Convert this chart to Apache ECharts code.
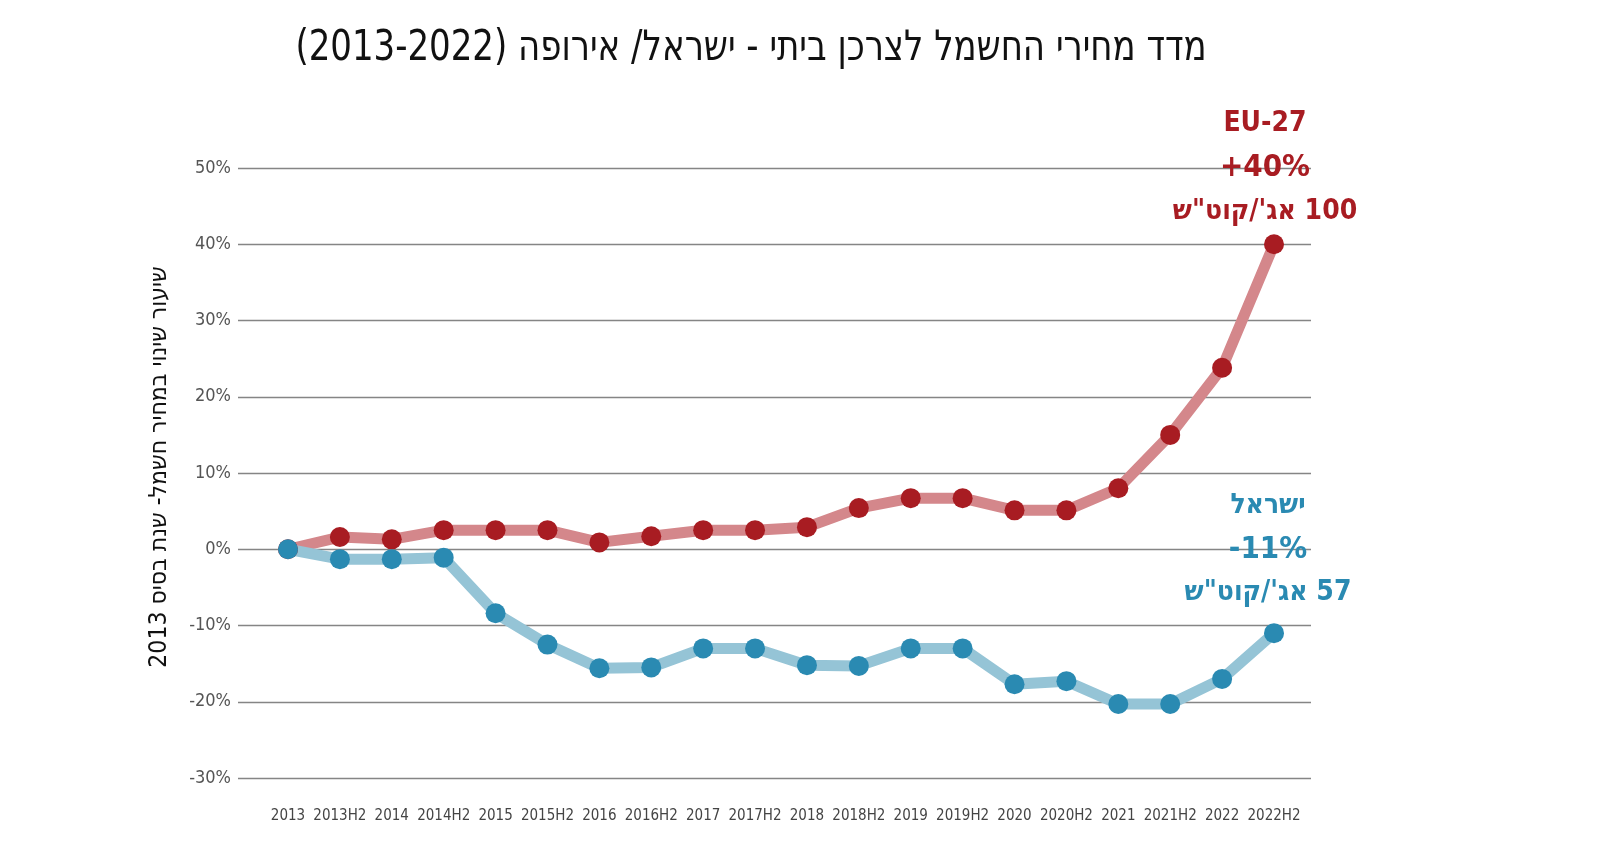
<!DOCTYPE html>
<html>
<head>
<meta charset="utf-8">
<script src="https://cdn.jsdelivr.net/npm/echarts@6/dist/echarts.min.js"></script>
<style>
html,body{margin:0;padding:0;background:#fff;}
#chart{width:1600px;height:863px;}
</style>
</head>
<body>
<div id="chart"></div>
<script>
const RLM = '\u200F';
const titleText = 'מדד מחירי החשמל לצרכן ביתי - ישראל/ אירופה (2013-2022)';
const yAxisTitle = 'שיעור שינוי במחיר חשמל- שנת בסיס 2013';
const categories = ['2013','2013H2','2014','2014H2','2015','2015H2','2016','2016H2','2017','2017H2',
  '2018','2018H2','2019','2019H2','2020','2020H2','2021','2021H2','2022','2022H2'];
const euValues = [0, 1.6, 1.3, 2.5, 2.5, 2.5, 0.9, 1.7, 2.5, 2.5,
  2.9, 5.4, 6.7, 6.7, 5.1, 5.1, 8.0, 15.0, 23.8, 40.0];
const israelValues = [0, -1.3, -1.3, -1.1, -8.4, -12.5, -15.6, -15.5, -13.0, -13.0,
  -15.2, -15.3, -13.0, -13.0, -17.7, -17.3, -20.3, -20.3, -17.0, -11.0];
const yTicks = [-30, -20, -10, 0, 10, 20, 30, 40, 50];
const euNote = ['EU-27', '+40%', '100 אג\'/קוט"ש'];
const israelNote = ['ישראל', '-11%', '57 אג\'/קוט"ש'];

const FONT = '"Liberation Sans Narrow", "DejaVu Sans Condensed", sans-serif';
const RED_DOT = '#a81c22', RED_LINE = '#d4878b';
const BLUE_DOT = '#2a8ab2', BLUE_LINE = '#95c4d6';

function noteRich(color){
  return {
    a: {fontFamily: FONT, fontWeight: 'bold', fontSize: 28, color: color, lineHeight: 45, align: 'center'},
    b: {fontFamily: FONT, fontWeight: 'bold', fontSize: 31, color: color, lineHeight: 44, align: 'center'},
    c: {fontFamily: FONT, fontWeight: 'bold', fontSize: 28, color: color, lineHeight: 42, align: 'center'}
  };
}
function withNote(values, note, color, offset){
  return values.map((v, i) => i === values.length - 1 ? {
    value: v,
    label: {
      show: true, position: 'top', offset: offset, distance: 5,
      formatter: '{a|' + RLM + note[0] + RLM + '}\n{b|' + note[1] + '}\n{c|' + RLM + note[2] + RLM + '}',
      rich: noteRich(color)
    }
  } : v);
}

const chart = echarts.init(document.getElementById('chart'));
const gridTop = 168, gridHeight = 610;
chart.setOption({
  animation: false,
  backgroundColor: '#ffffff',
  graphic: [{
    type: 'text', x: 751, y: 28, scaleX: 0.9,
    style: {text: RLM + titleText + RLM, font: '42px ' + FONT, fill: '#111',
            textAlign: 'center', textVerticalAlign: 'top'}
  }],
  grid: [
    {left: 238, right: 289, top: gridTop, height: gridHeight},
    {left: 288, right: 326, top: gridTop, height: gridHeight}
  ],
  xAxis: [
    {gridIndex: 0, type: 'value', show: false, min: 0, max: 1},
    {gridIndex: 1, type: 'category', data: categories, boundaryGap: false,
     axisLine: {show: false}, axisTick: {show: false},
     axisLabel: {interval: 0, margin: 31, fontFamily: FONT, fontSize: 15, color: '#444'}}
  ],
  yAxis: [
    {gridIndex: 0, type: 'value', min: yTicks[0], max: yTicks[yTicks.length-1], interval: 10,
     axisLine: {show: false}, axisTick: {show: false},
     axisLabel: {formatter: '{value}%', margin: 7, fontFamily: FONT, fontSize: 18, color: '#555'},
     splitLine: {lineStyle: {color: '#858585', width: 1.3}},
     name: RLM + yAxisTitle + RLM, nameLocation: 'middle', nameRotate: 90, nameGap: 66,
     nameTextStyle: {fontFamily: FONT, fontSize: 24.5, color: '#111', padding: [0, 0, 0, 12]}},
    {gridIndex: 1, type: 'value', min: yTicks[0], max: yTicks[yTicks.length-1], interval: 10, show: false,
     splitLine: {show: false}}
  ],
  series: [
    {name: 'EU-27', type: 'line', xAxisIndex: 1, yAxisIndex: 1,
     data: withNote(euValues, euNote, RED_DOT, [-9, 3]),
     lineStyle: {color: RED_LINE, width: 11}, itemStyle: {color: RED_DOT},
     symbol: 'circle', symbolSize: 20, showAllSymbol: true},
    {name: 'ישראל', type: 'line', xAxisIndex: 1, yAxisIndex: 1,
     data: withNote(israelValues, israelNote, BLUE_DOT, [-6, -4]),
     lineStyle: {color: BLUE_LINE, width: 11}, itemStyle: {color: BLUE_DOT},
     symbol: 'circle', symbolSize: 20, showAllSymbol: true}
  ]
});
</script>
</body>
</html>
